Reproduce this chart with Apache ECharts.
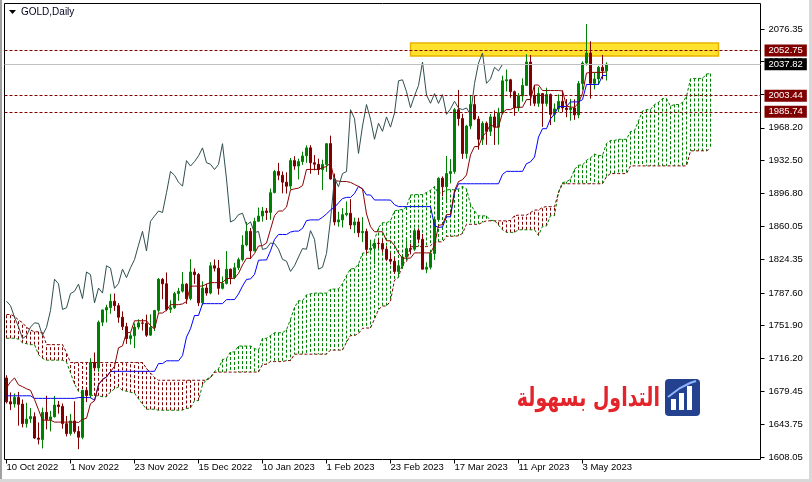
<!DOCTYPE html>
<html><head><meta charset="utf-8">
<script src="https://cdn.jsdelivr.net/npm/echarts@6/dist/echarts.min.js"></script>
<style>html,body{margin:0;padding:0;background:#fff}#c{width:812px;height:482px}</style>
</head><body><div id="c"></div><script>
// ---- tick labels ----
const xLabels = ['10 Oct 2022','1 Nov 2022','23 Nov 2022','15 Dec 2022','10 Jan 2023','1 Feb 2023','23 Feb 2023','17 Mar 2023','11 Apr 2023','3 May 2023'];
const xLabelIdx = [0,16,32,48,64,80,96,112,128,144];
const yTicks = [1608.05,1643.75,1679.45,1716.20,1751.90,1787.60,1824.35,1860.05,1896.80,1932.50,1968.20,2004.95,2040.65,2076.35];
const levelLines = [2052.75, 2003.44, 1985.74];
const bidPrice = 2037.82;
const zoneX = [101, 178];
const zoneY = [2046.8, 2061.0];

// ---- daily OHLC (10 Oct 2022 .. 11 May 2023) ----
const opens = [1694.5,1668.5,1666.1,1673.1,1665.9,1644.6,1649.8,1652.2,1628.8,1627.1,
1656.9,1649.0,1652.0,1665.0,1663.4,1644.5,1633.7,1647.5,1636.0,1629.6,
1681.0,1675.5,1711.5,1705.5,1755.6,1769.0,1771.5,1778.5,1773.6,1761.0,
1750.7,1737.7,1740.7,1750.2,1754.8,1754.3,1741.4,1749.8,1768.5,1802.5,
1797.6,1769.6,1771.3,1787.0,1789.5,1797.2,1781.4,1810.5,1807.7,1776.8,
1793.0,1787.5,1817.3,1814.7,1792.6,1798.0,1813.6,1804.4,1815.2,1824.0,
1840.0,1855.0,1833.6,1866.0,1871.7,1877.3,1875.7,1897.4,1920.5,1916.4,
1908.8,1904.5,1932.4,1926.4,1931.3,1937.6,1946.4,1930.0,1928.4,1922.6,
1928.2,1951.0,1912.4,1865.3,1867.5,1873.3,1874.8,1861.9,1865.3,1853.5,
1854.9,1835.2,1836.4,1842.0,1841.6,1835.5,1824.3,1822.3,1811.1,1817.3,
1826.9,1836.1,1835.4,1855.7,1846.3,1813.6,1815.7,1830.8,1867.8,1913.1,
1903.8,1918.2,1920.4,1988.0,1978.4,1940.2,1970.2,1993.7,1977.8,1955.7,
1973.3,1964.4,1980.2,1969.0,1984.4,2019.7,2020.8,2007.8,1990.2,2003.2,
2014.7,2040.3,2004.0,1995.1,2005.7,1995.0,2004.6,1983.0,1989.0,1997.3,
1989.9,1988.1,1990.0,1982.4,2016.7,2039.1,2050.1,2016.9,2021.8,2034.5,
2030.5];
const highs = [1697.5,1678.7,1677.6,1679.3,1671.0,1667.3,1661.5,1656.9,1645.8,1662.1,
1675.1,1658.4,1674.9,1669.4,1666.6,1653.0,1655.2,1669.0,1641.8,1681.6,
1684.3,1716.2,1722.4,1757.4,1769.2,1774.6,1786.6,1787.0,1776.5,1767.4,
1754.9,1743.5,1754.3,1758.7,1759.1,1763.8,1764.2,1769.0,1803.9,1804.0,
1810.0,1779.5,1788.8,1793.1,1810.5,1798.4,1824.5,1814.4,1809.3,1800.2,
1797.6,1821.3,1824.2,1823.7,1805.6,1833.4,1814.3,1820.5,1826.2,1850.7,
1865.2,1858.6,1869.8,1881.0,1881.7,1880.6,1901.8,1922.2,1929.9,1920.5,
1919.6,1935.2,1937.2,1934.5,1942.2,1949.0,1949.3,1938.4,1934.5,1933.4,
1951.4,1959.7,1918.2,1876.4,1880.4,1887.7,1890.2,1870.0,1869.8,1870.5,
1857.9,1845.8,1842.6,1846.9,1846.8,1838.9,1831.8,1826.8,1820.9,1830.1,
1845.2,1841.6,1858.4,1858.3,1852.2,1821.1,1834.8,1870.0,1914.1,1915.1,
1937.4,1934.0,1989.9,2009.7,1983.7,1971.5,2003.1,2003.6,1981.0,1975.4,
1975.2,1983.3,1987.3,1990.2,2025.3,2032.0,2021.9,2009.0,2006.2,2022.3,
2048.8,2047.9,2014.9,2012.6,2006.4,2012.2,2005.8,1995.0,2004.9,2009.3,
1999.8,2000.0,1999.5,2019.6,2041.0,2081.8,2062.9,2028.8,2036.0,2048.0,
2040.0];
const lows = [1666.7,1659.3,1662.2,1642.3,1640.4,1640.2,1645.4,1627.8,1621.8,1617.4,
1638.2,1636.0,1651.3,1655.5,1639.0,1630.6,1631.5,1633.6,1616.6,1627.5,
1668.1,1672.3,1701.8,1701.3,1751.3,1755.3,1764.8,1768.0,1754.9,1747.0,
1731.8,1731.1,1727.2,1747.6,1746.4,1739.5,1740.6,1745.8,1766.0,1780.7,
1767.6,1765.6,1770.0,1779.0,1788.0,1775.6,1779.5,1797.5,1773.2,1774.1,
1784.5,1786.0,1811.1,1785.7,1791.4,1796.8,1797.0,1802.6,1812.6,1822.0,
1838.5,1824.6,1833.1,1865.6,1865.6,1867.4,1867.6,1896.5,1910.9,1896.6,
1896.3,1900.9,1922.4,1911.8,1927.6,1930.0,1918.0,1921.8,1916.8,1900.2,
1920.1,1911.5,1861.5,1860.1,1859.2,1871.3,1857.4,1852.9,1848.6,1843.2,
1829.9,1832.7,1818.9,1836.4,1831.6,1822.6,1818.7,1808.6,1804.4,1813.9,
1823.6,1829.7,1833.6,1841.8,1813.3,1809.2,1813.3,1823.7,1867.5,1893.3,
1885.8,1907.4,1917.9,1970.6,1934.3,1934.6,1966.7,1976.6,1944.4,1949.4,
1949.7,1959.3,1949.5,1949.8,1983.1,2008.1,2001.1,1981.4,1986.2,1997.0,
2014.5,1992.4,1991.9,1991.1,1969.3,1991.7,1971.3,1974.6,1985.3,1985.5,
1979.8,1976.0,1977.0,1978.7,2010.0,2036.4,2000.2,2010.4,2015.3,2021.3,
2020.0];
const closes = [1668.4,1666.1,1673.3,1665.7,1644.6,1649.6,1652.3,1628.8,1627.4,1656.8,
1649.0,1651.9,1664.9,1663.2,1644.6,1633.6,1647.5,1636.0,1629.7,1681.0,
1675.4,1711.5,1705.6,1755.6,1769.0,1771.5,1778.5,1773.6,1761.0,1750.6,
1737.6,1740.7,1750.2,1754.8,1754.3,1741.3,1749.8,1768.4,1802.6,1797.5,
1769.5,1771.3,1786.9,1789.4,1797.2,1781.3,1810.5,1807.6,1776.7,1792.9,
1787.4,1817.3,1814.7,1792.6,1797.9,1813.6,1804.3,1815.1,1824.0,1839.9,
1855.0,1833.6,1865.9,1871.7,1877.2,1875.6,1897.3,1920.5,1916.4,1908.8,
1904.4,1932.4,1926.4,1931.3,1937.5,1946.3,1930.0,1928.4,1922.6,1928.2,
1950.9,1912.3,1865.2,1867.5,1873.2,1874.8,1861.9,1865.3,1853.5,1854.9,
1835.2,1836.4,1842.1,1841.6,1835.5,1824.3,1822.3,1811.1,1817.3,1826.9,
1836.1,1835.4,1855.7,1846.3,1813.6,1815.7,1830.8,1867.8,1913.1,1903.8,
1918.2,1920.4,1988.1,1978.4,1940.2,1970.2,1993.7,1977.8,1955.7,1973.3,
1964.4,1980.2,1969.0,1984.4,2019.7,2020.8,2007.8,1990.2,2003.2,2014.7,
2040.3,2004.0,1995.1,2005.7,1995.0,2004.6,1983.0,1989.0,1997.3,1989.9,
1988.1,1990.0,1982.4,2016.7,2039.1,2050.1,2016.9,2021.8,2034.5,2030.5,
2037.82];

// ---- Ichimoku lines ----
const tenkan = [1683.6,1690.2,1694.5,1687,1685,1682.7,1681,1671,1659.65,1648.35,
1648.35,1648.35,1646.25,1646.25,1646.25,1646.25,1646.25,1646.25,1645.85,1649.1,
1650.45,1666.4,1669.5,1687.0,1692.9,1695.6,1701.6,1707.25,1727.55,1729.65,
1744.15,1744.15,1757.1,1757.1,1757.1,1757.1,1751.85,1748.1,1765.55,1765.6,
1768.6,1774.75,1774.75,1774.75,1775.55,1778.15,1795.05,1795.05,1795.05,1795.05,
1797.25,1798.85,1798.85,1798.85,1798.85,1803.3,1803.3,1803.75,1808.95,1818.2,
1825.45,1825.45,1830.6,1838.9,1839.35,1842.15,1857.2,1872.1,1877.25,1877.25,
1881.5,1900.4,1901.4,1902.3,1904.9,1922.65,1922.8,1922.8,1922.8,1924.75,
1925.8,1929.95,1910.6,1909.9,1909.45,1909.45,1908.55,1906.3,1904.15,1901.45,
1874.05,1860.05,1854.55,1854.55,1854.55,1844.7,1844.6,1839.55,1831.15,1825.65,
1825.65,1825.65,1831.4,1831.4,1831.4,1831.4,1831.4,1839.6,1861.65,1862.15,
1873.3,1873.3,1899.55,1909.45,1911.5,1916.7,1938.6,1947.75,1947.75,1958.55,
1963.8,1972.0,1968.95,1969.1,1984.85,1988.2,1988.2,1990.7,1990.75,1990.75,
1999.15,1999.3,2015.1,2015.1,2009.05,2009.05,2009.05,2009.05,2009.05,2008.6,
1992.1,1990.95,1990.75,1995.45,2006.15,2028.2,2028.9,2028.9,2028.9,2028.9,
2029.4];
const kijun = [1675,1675,1675,1675,1675,1675,1675,1672.2,1672.2,1672.2,
1672.2,1672.2,1672.2,1672.2,1672.2,1672.2,1672.2,1672.2,1673.05,1673.05,
1673.05,1673.05,1670,1687,1692.9,1695.6,1701.6,1701.8,1701.8,1701.8,
1701.8,1701.8,1701.8,1701.8,1701.8,1701.8,1701.8,1701.8,1710.25,1710.3,
1713.3,1713.3,1713.3,1713.3,1719.0,1739.3,1748.4,1762.9,1762.9,1775.85,
1775.85,1775.85,1775.85,1775.85,1775.85,1780.3,1780.3,1780.3,1786.45,1795.1,
1802.35,1802.9,1807.8,1823.3,1823.65,1823.65,1833.7,1846.1,1851.55,1851.55,
1851.55,1854.2,1855.2,1855.2,1858.15,1866.75,1867.5,1867.5,1867.5,1870.35,
1874.1,1878.35,1881.15,1886.15,1890.85,1892.15,1892.15,1896.4,1904.15,1901.45,
1894.8,1894.8,1889.3,1889.3,1889.3,1889.3,1889.2,1884.15,1882.05,1882.05,
1882.05,1882.05,1882.05,1882.05,1882.05,1882.05,1882.05,1861.3,1859.25,1859.75,
1870.9,1870.9,1897.15,1907.05,1907.05,1907.05,1907.05,1907.05,1907.05,1907.05,
1907.05,1907.05,1907.05,1907.05,1917.25,1920.6,1920.6,1920.6,1920.6,1920.6,
1929.0,1931.05,1936.25,1958.15,1967.3,1967.3,1978.1,1983.35,1991.55,1991.55,
1991.7,1996.6,1996.6,1996.6,1999.1,2015.65,2015.65,2015.65,2015.8,2025.55,
2025.55];
const spanA = [1738,1738,1738,1737,1733,1732,1731,1731,1720,1716,
1714,1714,1714,1714,1714,1712,1700,1688,1680,1677,
1676,1676,1675,1675,1674,1674,
1679.3,1682.6,1684.75,1681,1680,1678.85,1678,1671.6,1665.9,1660.3,
1660.3,1660.3,1659.2,1659.2,1659.2,1659.2,1659.2,1659.2,1659.45,1661.1,
1661.75,1669.7,1669.75,1687,1692.9,1695.6,1701.6,1704.5,1714.7,1715.7,
1723,1723,1729.45,1729.45,1729.45,1729.45,1726.8,1724.95,1737.9,1737.95,
1740.95,1744,1744,1744,1747.3,1758.7,1771.7,1779,1779,1785.45,
1786.55,1787.35,1787.35,1787.35,1787.35,1791.8,1791.8,1792,1797.7,1806.65,
1813.9,1814.2,1819.2,1831.1,1831.5,1832.9,1845.45,1859.1,1864.4,1864.4,
1866.5,1877.3,1878.3,1878.75,1881.5,1894.7,1895.15,1895.15,1895.15,1897.55,
1899.95,1904.15,1895.9,1898,1900.15,1900.8,1900.35,1901.35,1904.15,1901.45,
1884.4,1877.4,1871.9,1871.9,1871.9,1867,1866.9,1861.85,1856.6,1853.85,
1853.85,1853.85,1856.7,1856.7,1856.7,1856.7,1856.7,1850.45,1860.45,1860.95,
1872.1,1872.1,1898.35,1908.25,1909.3,1911.9,1922.8,1927.4,1927.4,1932.8,
1935.4,1939.5,1938,1938.1,1951.05,1954.4,1954.4,1955.65,1955.7,1955.7,
1964.1,1965.2,1975.7,1986.6,1988.2,1988.2,1993.6,1996.2,2000.3,2000.1,
1991.9,1993.8,1993.7,1996,2002.6,2021.9,2022.3,2022.3,2022.35,2027.2,
2027.5];
const spanB = [1764,1764,1762,1758,1755,1750,1747,1745,1745,1744,
1731,1731,1731,1731,1731,1722,1711.4,1711.4,1711.4,1711.4,
1711.4,1711.4,1711.4,1711.4,1711.4,1711.4,1711.4,1711.4,1711.4,1711.4,
1711.4,1711.4,1711.4,1711.4,1711.4,1705,1700,1695,1692,1692,
1692,1692,1692,1692,1692,1692,1692,1692,1692,1692,
1692,
1694.75,1700.75,1700.95,1700.95,1700.95,1700.95,1700.95,1700.95,1700.95,1700.95,
1700.95,1700.95,1700.95,1709.4,1709.45,1712.45,1712.45,1712.45,1712.45,1713.55,
1713.55,1720.55,1720.55,1720.55,1720.55,1720.55,
1720.55,1720.55,1720.55,1720.55,1725,1725,1725,1725,1733.65,1740.9,
1740.9,1743.2,1748.8,1749.15,1749.15,1759.2,1769.4,1773.25,1773.25,1778.7,
1801.65,1804.75,1819.25,1821.75,1838.1,1838.25,1838.25,1838.25,1838.25,1839.3,
1843.45,1843.45,1843.45,1849.6,1849.6,1849.6,1850.15,1852.75,1862.65,1862.65,
1862.65,1862.65,1864.85,1866.45,1866.45,1866.45,1866.45,1866.45,1866.45,1866.9,
1872.1,1872.7,1872.7,1872.7,1875.55,1878.25,1878.35,1881.15,1882.05,1882.05,
1882.05,1897.15,1907.05,1907.05,1907.05,1907.05,1907.05,1907.05,1907.05,1907.05,
1907.05,1907.05,1907.05,1914.85,1918.2,1918.2,1918.2,1918.2,1918.2,1926.6,
1926.6,1926.6,1926.6,1926.6,1926.6,1926.6,1926.6,1926.6,1926.6,1926.6,
1926.6,1926.6,1926.6,1926.6,1943.1,1943.1,1943.1,1943.1,1943.1,1945.5];

// ---- build ----
const NCAT = 189;
const cats = Array.from({length: NCAT}, (_, i) => String(i));
const candle = opens.map((o, i) => [o, closes[i], lows[i], highs[i]]);
const chikou = closes.slice(26); // lagging line: closes displayed 26 bars back
const cloud = spanA.map((a, k) => [k, a, spanB[k]]);

const GREEN = '#008000', RED = '#800000';
const FONT = '"Liberation Sans", Arial, sans-serif';
const showIdx = (idx) => xLabelIdx.indexOf(idx) >= 0;

const chart = echarts.init(document.getElementById('c'));
chart.setOption({
  animation: false,
  backgroundColor: '#ffffff',
  grid: {left: 4.5, top: 3.5, width: 756, height: 456, show: true,
         borderColor: '#000', borderWidth: 1, backgroundColor: '#fff'},
  xAxis: {
    type: 'category', data: cats, boundaryGap: true,
    axisLine: {show: false},
    axisTick: {show: true, alignWithLabel: true, interval: showIdx, length: 4, lineStyle: {color: '#000'}},
    axisLabel: {interval: showIdx, align: 'left', margin: 3, color: '#000', fontFamily: FONT, fontSize: 9.5,
                formatter: (v, i) => xLabels[xLabelIdx.indexOf(i)] || ''},
    splitLine: {show: false}
  },
  yAxis: {
    type: 'value', position: 'right', min: 1605.3, max: 2104.3,
    splitLine: {show: false}, axisLine: {show: false},
    axisTick: {show: true, customValues: yTicks, length: 4, lineStyle: {color: '#000'}},
    axisLabel: {customValues: yTicks, formatter: v => Number(v).toFixed(2), color: '#000',
                fontFamily: FONT, fontSize: 9.5, margin: 8}
  },
  series: [
    {
      type: 'custom', name: 'cloud', data: cloud, z: 1, silent: true,
      encode: {x: 0, y: [1, 2]},
      renderItem: (params, api) => {
        const k = api.value(0), a = api.value(1), b = api.value(2);
        const p1 = api.coord([k, a]), p2 = api.coord([k, b]);
        return {type: 'line', shape: {x1: p1[0], y1: p1[1], x2: p2[0], y2: p2[1]},
                style: {stroke: a >= b ? GREEN : RED, lineWidth: 1, lineDash: [3, 2]}};
      },
      markArea: {
        silent: true,
        itemStyle: {color: '#FFE22E', borderColor: '#E8B400', borderWidth: 1.5},
        data: [[{xAxis: zoneX[0], yAxis: zoneY[1]}, {xAxis: zoneX[1], yAxis: zoneY[0]}]]
      }
    },
    {type: 'line', name: 'spanA', data: spanA, symbol: 'none', z: 2, silent: true,
     lineStyle: {color: GREEN, width: 1, type: [3, 2]}},
    {type: 'line', name: 'spanB', data: spanB, symbol: 'none', z: 2, silent: true,
     lineStyle: {color: RED, width: 1, type: [3, 2]}},
    {type: 'candlestick', name: 'GOLD', data: candle, barWidth: 2, z: 3, silent: true,
     itemStyle: {color: GREEN, color0: RED, borderColor: GREEN, borderColor0: RED, borderWidth: 1}},
    {type: 'line', name: 'kijun', data: kijun, symbol: 'none', z: 4, silent: true,
     lineStyle: {color: '#0000FF', width: 1}},
    {type: 'line', name: 'tenkan', data: tenkan, symbol: 'none', z: 4, silent: true,
     lineStyle: {color: '#8B0000', width: 1}},
    {type: 'line', name: 'chikou', data: chikou, symbol: 'none', z: 4, silent: true,
     lineStyle: {color: '#2F4F4F', width: 1},
     markLine: {
       silent: true, symbol: ['none', 'none'], animation: false,
       label: {show: true, position: 'end', distance: 4, color: '#fff', fontFamily: FONT, fontSize: 9.5,
               padding: [1, 4, 0, 4], lineHeight: 11, formatter: p => Number(p.value).toFixed(2)},
       data: levelLines.map(v => ({yAxis: v, lineStyle: {color: RED, width: 1, type: [3, 2]},
                                   label: {backgroundColor: RED}}))
         .concat([{yAxis: bidPrice, lineStyle: {color: '#C0C0C0', width: 1, type: 'solid'},
                   label: {backgroundColor: '#000'}}])
     }}
  ],
  graphic: [
    {type: 'rect', left: 0, top: 0, shape: {width: 2, height: 482}, style: {fill: '#a0a0a0'}, silent: true},
    {type: 'rect', left: 0, top: 479, shape: {width: 812, height: 3}, style: {fill: '#d8d8d8'}, silent: true},
    {type: 'rect', left: 809, top: 0, shape: {width: 3, height: 482}, style: {fill: '#d8d8d8'}, silent: true},
    {type: 'polygon', shape: {points: [[9, 10], [16, 10], [12.5, 14]]}, style: {fill: '#000'}, silent: true},
    {type: 'text', x: 21, y: 12, style: {text: 'GOLD,Daily', fill: '#000020', font: '10px "Liberation Sans"',
      textVerticalAlign: 'middle'}, silent: true},
    {type: 'text', x: 660, y: 399, scaleX: 0.73, style: {text: 'التداول بسهولة', fill: '#E3242B',
      font: 'bold 26px "DejaVu Sans"', textAlign: 'right', textVerticalAlign: 'middle'}, silent: true},
    {type: 'rect', shape: {x: 665, y: 379, width: 35, height: 37, r: 4}, style: {fill: '#24418F'}, silent: true},
    {type: 'rect', shape: {x: 671, y: 399, width: 5, height: 11}, style: {fill: '#fff'}, silent: true},
    {type: 'rect', shape: {x: 679, y: 393, width: 5, height: 17}, style: {fill: '#fff'}, silent: true},
    {type: 'rect', shape: {x: 687, y: 386, width: 5, height: 24}, style: {fill: '#fff'}, silent: true},
    {type: 'polyline', shape: {points: [[668, 397], [680, 388], [690, 383], [696, 381]]},
      style: {stroke: '#8fb6ff', lineWidth: 2, fill: null}, silent: true}
  ]
});
</script></body></html>
